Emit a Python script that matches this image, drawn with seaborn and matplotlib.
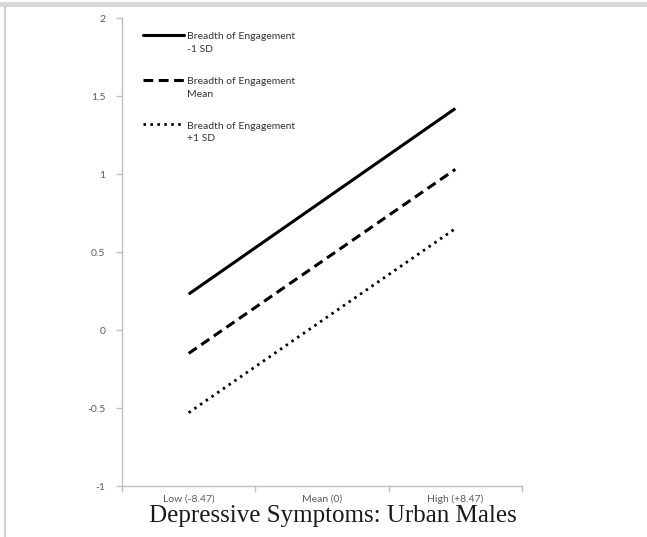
import matplotlib
matplotlib.use("Agg")
import matplotlib.pyplot as plt
from matplotlib.legend_handler import HandlerLine2D
from matplotlib.patches import Rectangle
from matplotlib.lines import Line2D
import seaborn as sns
import pandas as pd

categories = ["Low (-8.47)", "Mean (0)", "High (+8.47)"]
series_names = ["Breadth of Engagement\n-1 SD",
                "Breadth of Engagement\nMean",
                "Breadth of Engagement\n+1 SD"]
minus_1sd = [0.23, 0.825, 1.42]
mean_vals = [-0.15, 0.44, 1.03]
plus_1sd = [-0.53, 0.06, 0.65]
yticks = [-1, -0.5, 0, 0.5, 1, 1.5, 2]
ytick_labels = ["-1", "-0.5", "0", "0.5", "1", "1.5", "2"]
title = "Depressive Symptoms: Urban Males"

rows = []
for name, vals in zip(series_names, [minus_1sd, mean_vals, plus_1sd]):
    for c, v in zip(categories, vals):
        rows.append({"x": c, "y": v, "series": name})
df = pd.DataFrame(rows)
df["x"] = pd.Categorical(df["x"], categories=categories, ordered=True)

sns.set_style("white")
plt.rcParams["font.family"] = ["Lato", "DejaVu Sans"]

fig = plt.figure(figsize=(6.47, 5.37), dpi=100)
W, H = 647, 537
ax = fig.add_axes([122 / W, 1 - 486 / H, 400 / W, (486 - 18) / H])

dashes = {series_names[0]: "", series_names[1]: (3.2, 1.8), series_names[2]: (0.9, 1.6)}
sns.lineplot(data=df, x="x", y="y", style="series", dashes=dashes,
             color="black", linewidth=2.2, ax=ax, sort=False, legend=False)
lines = ax.get_lines()
for ln in lines:
    ln.set_solid_capstyle("butt")
    ln.set_dash_capstyle("butt")
lines[2].set_linewidth(2.0)

ax.set_xlim(-0.5, 2.5)
ax.set_ylim(-1, 2)
ax.set_yticks(yticks)
ax.set_yticklabels(ytick_labels)
ax.set_xticks([0, 1, 2])
ax.set_xticklabels(categories)
ax.set_xticks([-0.5, 0.5, 1.5, 2.5], minor=True)
ax.tick_params(axis="x", which="major", length=0, pad=6, labelsize=7.5, labelcolor="#595959")
ax.tick_params(axis="x", which="minor", length=4, width=1, color="#bfbfbf", direction="out", bottom=True)
ax.tick_params(axis="y", length=4, width=1, color="#bfbfbf", direction="out", left=True,
               labelsize=7.5, labelcolor="#595959", pad=8)
ax.set_xlabel("")
ax.set_ylabel("")
for s in ["top", "right"]:
    ax.spines[s].set_visible(False)
for s in ["left", "bottom"]:
    ax.spines[s].set_color("#bfbfbf")
    ax.spines[s].set_linewidth(1)


class FirstLineHandler(HandlerLine2D):
    def create_artists(self, legend, orig_handle, xdescent, ydescent, width, height, fontsize, trans):
        return super().create_artists(legend, orig_handle, xdescent, ydescent,
                                      width, height + 1.55 * fontsize, fontsize, trans)


handles = []
for ln, name in zip(lines[:3], series_names):
    h = Line2D([], [], color="black", linewidth=ln.get_linewidth(), linestyle=ln.get_linestyle())
    h.set_dashes(ln._unscaled_dash_pattern[1] or [])
    handles.append(h)
handles[0].set_linestyle("-")
leg = ax.legend(handles, series_names, loc="upper left", bbox_to_anchor=(0.03, 0.99),
                frameon=False, fontsize=7.5, handlelength=3.9, handletextpad=0.25,
                labelspacing=2.2, labelcolor="#333333",
                handler_map={Line2D: FirstLineHandler()})
for t in leg.get_texts():
    t.set_linespacing(1.55)

fig.text(0.515, 1 - 516 / H, title, ha="center", va="center",
         family="Liberation Serif", fontsize=18, color="#1a1a1a")

# screenshot frame
fig.patches.append(Rectangle((0, 1 - 7 / H), 1, 5 / H, transform=fig.transFigure,
                             facecolor="#d8d8d8", edgecolor="none"))
fig.patches.append(Rectangle((4 / W, 0), 2 / W, 1 - 7 / H, transform=fig.transFigure,
                             facecolor="#cfcfcf", edgecolor="none"))

fig.savefig("out.png", dpi=100)
